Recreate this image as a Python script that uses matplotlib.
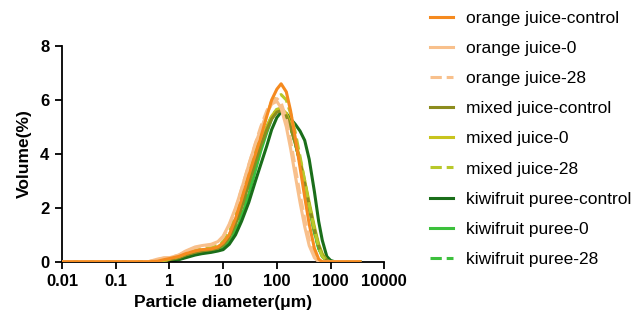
import matplotlib
matplotlib.use("Agg")
import matplotlib.pyplot as plt

plt.rcParams['font.family'] = ['Liberation Sans', 'DejaVu Sans']

# particle diameter grid (um)
diam = [0.01, 0.4, 0.6, 0.8, 1, 1.5, 2, 3, 4, 6, 8, 10, 13, 17, 22, 30, 40, 50, 65, 80,
        100, 120, 150, 180, 220, 270, 330, 400, 500, 600, 700, 850, 1000, 1200, 1500, 2000, 3500]

orange_control = [0, 0, 0.02, 0.08, 0.12, 0.2, 0.3, 0.4, 0.45, 0.48, 0.55, 0.7, 1.0, 1.6, 2.3, 3.2, 4.0, 4.6, 5.4, 6.0,
                  6.4, 6.6, 6.3, 5.6, 4.6, 3.5, 2.4, 1.4, 0.5, 0.1, 0, 0, 0, 0, 0, 0, 0]
orange_0 = [0, 0, 0.1, 0.15, 0.15, 0.25, 0.4, 0.55, 0.6, 0.65, 0.75, 0.95, 1.4, 2.0, 2.7, 3.6, 4.4, 4.9, 5.5, 5.85,
            5.95, 5.7, 5.0, 4.2, 3.2, 2.2, 1.3, 0.6, 0.15, 0, 0, 0, 0, 0, 0, 0, 0]
orange_28 = [0, 0, 0.08, 0.14, 0.15, 0.25, 0.38, 0.52, 0.58, 0.62, 0.72, 0.92, 1.35, 1.95, 2.7, 3.6, 4.4, 5.0, 5.6, 5.95,
             6.05, 5.9, 5.3, 4.5, 3.5, 2.5, 1.6, 0.8, 0.25, 0.05, 0, 0, 0, 0, 0, 0, 0]
mixed_control = [0, 0, 0, 0.03, 0.08, 0.15, 0.25, 0.35, 0.4, 0.45, 0.5, 0.62, 0.9, 1.4, 2.0, 2.9, 3.7, 4.3, 4.9, 5.3,
                 5.55, 5.6, 5.4, 5.0, 4.4, 3.7, 2.9, 2.1, 1.2, 0.6, 0.25, 0.05, 0, 0, 0, 0, 0]
mixed_0 = [0, 0, 0, 0.04, 0.1, 0.18, 0.28, 0.38, 0.43, 0.48, 0.55, 0.68, 1.0, 1.5, 2.1, 3.0, 3.8, 4.4, 5.0, 5.4,
           5.65, 5.7, 5.5, 5.1, 4.5, 3.8, 3.0, 2.2, 1.3, 0.65, 0.3, 0.05, 0, 0, 0, 0, 0]
mixed_28 = [0, 0, 0, 0.05, 0.1, 0.2, 0.3, 0.42, 0.48, 0.52, 0.6, 0.75, 1.1, 1.7, 2.4, 3.3, 4.2, 4.8, 5.5, 5.9,
            6.1, 6.2, 6.0, 5.5, 4.8, 3.9, 3.0, 2.1, 1.2, 0.55, 0.2, 0.03, 0, 0, 0, 0, 0]
kiwi_control = [0, 0, 0, 0, 0.02, 0.08, 0.15, 0.25, 0.3, 0.35, 0.4, 0.45, 0.65, 1.0, 1.5, 2.2, 3.0, 3.6, 4.3, 4.9,
                5.35, 5.55, 5.5, 5.3, 5.1, 4.85, 4.5, 3.8, 2.6, 1.5, 0.8, 0.2, 0.05, 0, 0, 0, 0]
kiwi_0 = [0, 0, 0, 0, 0.03, 0.1, 0.18, 0.28, 0.33, 0.38, 0.43, 0.5, 0.72, 1.1, 1.65, 2.5, 3.4, 4.1, 4.8, 5.3,
          5.6, 5.65, 5.4, 5.0, 4.4, 3.7, 2.9, 2.0, 1.1, 0.5, 0.2, 0.03, 0, 0, 0, 0, 0]
kiwi_28 = [0, 0, 0, 0, 0.03, 0.1, 0.18, 0.3, 0.35, 0.4, 0.45, 0.55, 0.8, 1.2, 1.8, 2.7, 3.6, 4.3, 5.0, 5.4,
           5.65, 5.65, 5.4, 5.0, 4.4, 3.7, 2.9, 2.0, 1.1, 0.5, 0.2, 0.03, 0, 0, 0, 0, 0]

series = [
    ('orange juice-control', orange_control, '#F58A1F', '-'),
    ('orange juice-0', orange_0, '#F8C08C', '-'),
    ('orange juice-28', orange_28, '#F8C08C', '--'),
    ('mixed juice-control', mixed_control, '#8C8C1E', '-'),
    ('mixed juice-0', mixed_0, '#C8C41E', '-'),
    ('mixed juice-28', mixed_28, '#B8C82A', '--'),
    ('kiwifruit puree-control', kiwi_control, '#1A6E1A', '-'),
    ('kiwifruit puree-0', kiwi_0, '#3CC03C', '-'),
    ('kiwifruit puree-28', kiwi_28, '#3CC03C', '--'),
]
zorders = [10, 6, 7, 4, 3, 5, 2, 1, 1]

fig = plt.figure(figsize=(6.37, 3.22), dpi=100)
ax = fig.add_axes([0.0973, 0.187, 0.506, 0.670])

for (name, vals, col, ls), z in zip(series, zorders):
    ax.plot(diam, vals, color=col, ls=ls, lw=2.2, label=name, zorder=z)

ax.set_xscale('log')
ax.set_xlim(0.01, 10000)
ax.set_ylim(0, 8)
ax.set_xticks([0.01, 0.1, 1, 10, 100, 1000, 10000])
ax.set_xticklabels(['0.01', '0.1', '1', '10', '100', '1000', '10000'])
ax.set_yticks([0, 2, 4, 6, 8])
ax.minorticks_off()
for s in ['top', 'right']:
    ax.spines[s].set_visible(False)
for s in ['left', 'bottom']:
    ax.spines[s].set_linewidth(1.3)
ax.tick_params(width=1.3, length=5, labelsize=12, pad=4)
for lab in ax.get_xticklabels() + ax.get_yticklabels():
    lab.set_fontweight('bold')
ax.set_xlabel('Particle diameter(μm)', fontsize=12.5, fontweight='bold', labelpad=4)
ax.set_ylabel('Volume(%)', fontsize=12.5, fontweight='bold', labelpad=6)

handles, labels = ax.get_legend_handles_labels()
fig.legend(handles, labels, loc='upper left', bbox_to_anchor=(0.675, 0.966),
           frameon=False, fontsize=12.5, handlelength=1.3, handletextpad=0.75,
           labelspacing=0.86, borderpad=0, borderaxespad=0)

fig.savefig('out.png', dpi=100)
